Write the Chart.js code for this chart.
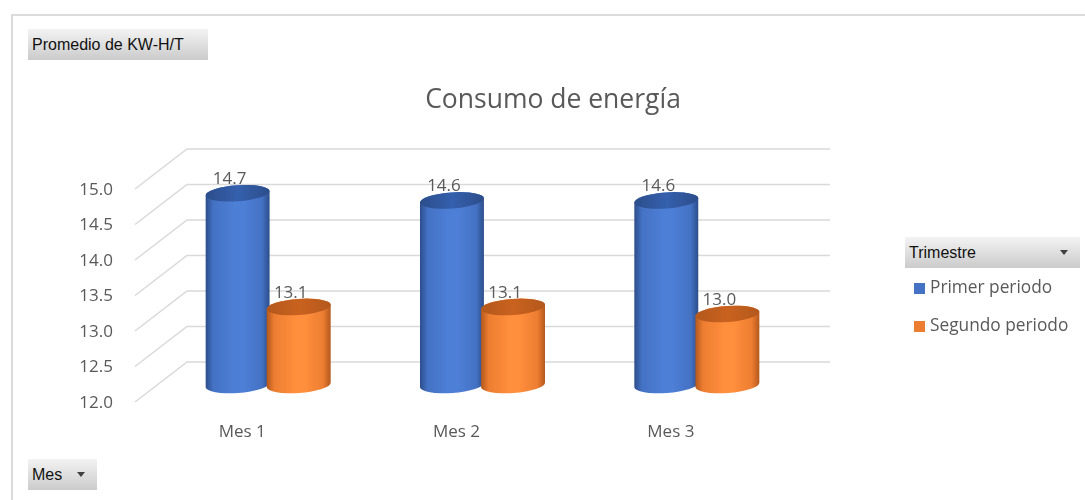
<!DOCTYPE html>
<html>
<head>
<meta charset="utf-8">
<script src="https://cdn.jsdelivr.net/npm/chart.js@4.4.1/dist/chart.umd.min.js"></script>
<style>
  html, body { margin: 0; padding: 0; background: #fff; }
  #wrap { position: relative; width: 1085px; height: 500px; overflow: hidden; }
  #frame {
    position: absolute; left: 11px; top: 14px; right: -5px; bottom: -5px;
    border-top: 2px solid #dcdcdc; border-left: 2px solid #dcdcdc;
  }
  canvas { position: absolute; left: 0; top: 0; }
  .btn {
    position: absolute; height: 31px; box-sizing: border-box;
    background: linear-gradient(#f3f3f3, #cbcbcb);
    font-family: "Liberation Sans", Arial, sans-serif; font-size: 16px; color: #111;
    line-height: 31px; padding-left: 4px; white-space: nowrap;
  }
  .arrow {
    position: absolute; width: 0; height: 0;
    border-left: 4px solid transparent; border-right: 4px solid transparent;
    border-top: 5px solid #404040;
  }
  .legend {
    position: absolute; left: 914px; font-family: "Open Sans", sans-serif;
    font-size: 17.3px; color: #595959; white-space: nowrap;
  }
  .legend span.sw { display: inline-block; width: 11px; height: 11px; margin-right: 5px; vertical-align: -1px; }
</style>
</head>
<body>
<div id="wrap">
  <div id="frame"></div>
  <canvas id="energyChart" width="1085" height="500"></canvas>
  <div class="btn" style="left:28px; top:29px; width:180px;">Promedio de KW-H/T</div>
  <div class="btn" style="left:905px; top:237px; width:175px;">Trimestre<div class="arrow" style="left:155px; top:13px;"></div></div>
  <div class="btn" style="left:28px; top:459px; width:69px;">Mes<div class="arrow" style="left:49px; top:13px;"></div></div>
  <div id="legend"></div>
</div>
<script>
// Categories and series
const meses = ['Mes 1', 'Mes 2', 'Mes 3'];
const seriesNames = ['Primer periodo', 'Segundo periodo'];
const primerPeriodo = [14.7, 14.6, 14.6];
const segundoPeriodo = [13.1, 13.1, 13.0];
const yTicks = [12.0, 12.5, 13.0, 13.5, 14.0, 14.5, 15.0];

// Colours: side gradient (edge, light, edge) and top face
const palette = [
    { edge: '#2c4d8a', mid: '#4472c4', light: '#4d7fd6', top: '#3560ad', swatch: '#4472c4' },
    { edge: '#b3581c', mid: '#ed7d31', light: '#ff8f3c', top: '#c9621f', swatch: '#ed7d31' }
];

// Depth of the 3D box and where the cylinders sit inside it
const DEPTH_X = 52, DEPTH_Y = -40;
const BAR_DX = 26, BAR_DY = -17;
const TEXT = '#595959';

// Legend next to the plot
const legendEl = document.getElementById('legend');
seriesNames.forEach((name, i) => {
    const d = document.createElement('div');
    d.className = 'legend';
    d.style.top = (275 + i * 38) + 'px';
    d.innerHTML = '<span class="sw" style="background:' + palette[i].swatch + '"></span>' + name;
    legendEl.appendChild(d);
});

// Back wall, side wall and tick labels
const wallsPlugin = {
    id: 'walls3d',
    beforeDatasetsDraw(chart) {
        const { ctx, chartArea } = chart;
        const yScale = chart.scales.y;
        const xScale = chart.scales.x;
        ctx.save();
        ctx.strokeStyle = '#d9d9d9';
        ctx.lineWidth = 1.5;
        yTicks.forEach(v => {
            const yf = yScale.getPixelForValue(v);
            ctx.beginPath();
            ctx.moveTo(chartArea.left, yf);
            ctx.lineTo(chartArea.left + DEPTH_X, yf + DEPTH_Y);
            ctx.lineTo(chartArea.right + DEPTH_X, yf + DEPTH_Y);
            ctx.stroke();
        });
        ctx.fillStyle = TEXT;
        ctx.font = '17px "Open Sans"';
        ctx.textAlign = 'right';
        ctx.textBaseline = 'middle';
        yTicks.forEach(v => {
            ctx.fillText(v.toFixed(1), chartArea.left - 22, yScale.getPixelForValue(v) + 1);
        });
        ctx.textAlign = 'center';
        meses.forEach((m, i) => {
            ctx.fillText(m, xScale.getPixelForTick(i), chartArea.bottom + 30);
        });
        ctx.font = '26.5px "Open Sans"';
        ctx.fillText('Consumo de energía', 553, 100);
        ctx.restore();
    }
};

// Cylinders drawn over the (invisible) bar elements
function drawCylinder(ctx, cx, top, bottom, rx, c) {
    const ry = 8, rot = -0.07;
    const g = ctx.createLinearGradient(cx - rx, 0, cx + rx, 0);
    g.addColorStop(0, c.edge);
    g.addColorStop(0.12, c.mid);
    g.addColorStop(0.45, c.light);
    g.addColorStop(0.6, c.light);
    g.addColorStop(0.88, c.mid);
    g.addColorStop(1, c.edge);
    ctx.beginPath();
    ctx.ellipse(cx, bottom, rx, ry, rot, 0, Math.PI, false);
    ctx.ellipse(cx, top, rx, ry, rot, Math.PI, Math.PI * 2, false);
    ctx.closePath();
    ctx.fillStyle = g;
    ctx.fill();
    const tg = ctx.createLinearGradient(cx - rx, 0, cx + rx, 0);
    tg.addColorStop(0, c.edge);
    tg.addColorStop(0.5, c.top);
    tg.addColorStop(1, c.edge);
    ctx.beginPath();
    ctx.ellipse(cx, top, rx, ry, rot, 0, Math.PI * 2);
    ctx.fillStyle = tg;
    ctx.fill();
}

const cylinderPlugin = {
    id: 'cylinders',
    afterDatasetsDraw(chart) {
        const { ctx } = chart;
        ctx.save();
        meses.forEach((m, i) => {
            chart.data.datasets.forEach((ds, di) => {
                const el = chart.getDatasetMeta(di).data[i];
                const { x, y, base, width } = el.getProps(['x', 'y', 'base', 'width'], true);
                const cx = x + BAR_DX;
                const top = y + BAR_DY;
                drawCylinder(ctx, cx, top, base + BAR_DY, width / 2 + 1.5, palette[di]);
                ctx.fillStyle = TEXT;
                ctx.font = '17px "Open Sans"';
                ctx.textAlign = 'center';
                ctx.textBaseline = 'middle';
                ctx.fillText(ds.data[i].toFixed(1), cx - 8, top - 14);
            });
        });
        ctx.restore();
    }
};

new Chart(document.getElementById('energyChart'), {
    type: 'bar',
    data: {
        labels: meses,
        datasets: [
            { label: seriesNames[0], data: primerPeriodo },
            { label: seriesNames[1], data: segundoPeriodo }
        ].map(d => Object.assign(d, {
            base: yTicks[0],
            backgroundColor: 'rgba(0,0,0,0)',
            borderWidth: 0,
            categoryPercentage: 0.57,
            barPercentage: 1.0
        }))
    },
    options: {
        responsive: false,
        animation: false,
        devicePixelRatio: 1,
        layout: { padding: { left: 135, right: 307, top: 189, bottom: 98 } },
        scales: {
            x: { display: false },
            y: { display: false, min: 12, max: 15 }
        },
        plugins: {
            legend: { display: false },
            title: { display: false },
            tooltip: { enabled: false }
        }
    },
    plugins: [wallsPlugin, cylinderPlugin]
});
</script>
</body>
</html>
